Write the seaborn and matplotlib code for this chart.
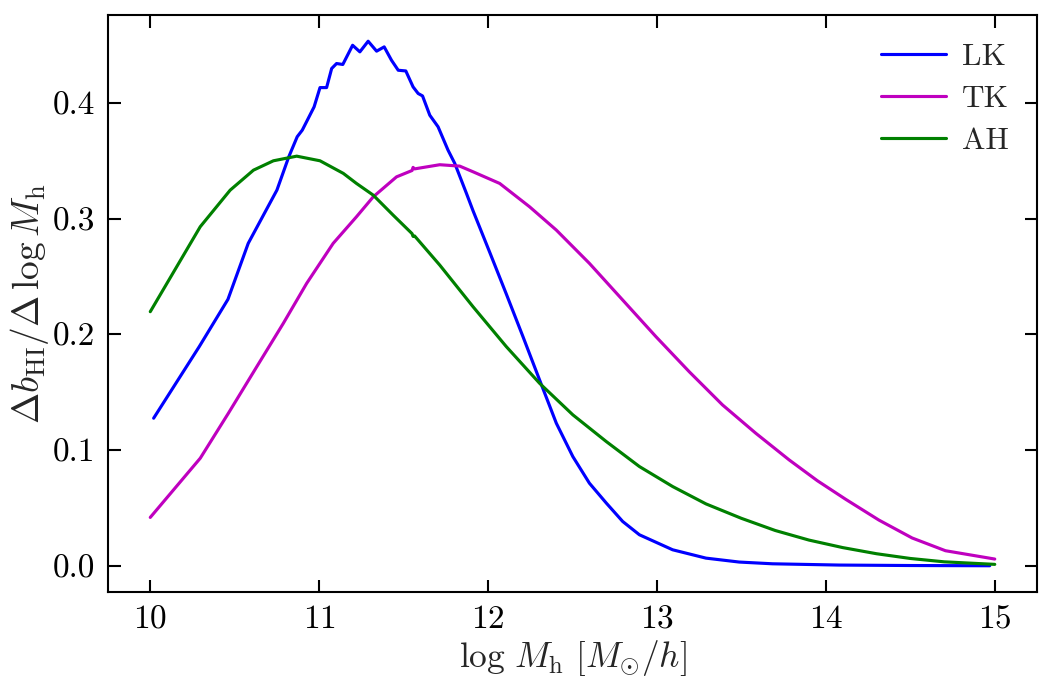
import numpy as np
import pandas as pd
import seaborn as sns
import matplotlib.pyplot as plt

# HI bias contribution per halo mass bin
lk_logm = [10.02, 10.29, 10.46, 10.58, 10.75, 10.82, 10.87, 10.90, 10.97, 11.005, 11.044,
           11.074, 11.103, 11.14, 11.198, 11.241, 11.29, 11.34, 11.385, 11.428, 11.468,
           11.513, 11.556, 11.586, 11.612, 11.655, 11.704, 11.763, 11.803, 11.872, 11.911,
           12.01, 12.108, 12.207, 12.305, 12.404, 12.502, 12.6, 12.7, 12.797, 12.896,
           13.093, 13.29, 13.487, 13.684, 14.078, 14.5, 14.97]
lk_db = [0.1276, 0.1895, 0.2304, 0.2788, 0.3249, 0.3536, 0.371, 0.3767, 0.3968, 0.4135, 0.4135,
         0.430, 0.4343, 0.4335, 0.4501, 0.4444, 0.4536, 0.445, 0.4487, 0.4372, 0.4285,
         0.4279, 0.4141, 0.4084, 0.4063, 0.3896, 0.3796, 0.3594, 0.3479, 0.322, 0.307,
         0.271, 0.235, 0.198, 0.1607, 0.1233, 0.0944, 0.0714, 0.0542, 0.0383, 0.0268,
         0.0138, 0.0066, 0.0032, 0.0017, 0.0006, 0.0002, 0.0]

tk_logm = [10.0, 10.296, 10.463, 10.63, 10.788, 10.926, 11.083, 11.221, 11.32, 11.458, 11.55,
           11.556, 11.565, 11.714, 11.832, 11.911, 12.069, 12.246, 12.404, 12.6, 12.797,
           12.994, 13.191, 13.388, 13.585, 13.782, 13.95, 14.117, 14.314, 14.511, 14.708,
           15.0]
tk_db = [0.0418, 0.093, 0.132, 0.172, 0.2097, 0.2442, 0.2788, 0.3018, 0.319, 0.3363, 0.3418,
         0.3445, 0.3432, 0.3468, 0.3456, 0.3407, 0.3306, 0.3104, 0.2903, 0.2615, 0.2298,
         0.1981, 0.1678, 0.1391, 0.1146, 0.0916, 0.0735, 0.0575, 0.0395, 0.0240, 0.0130,
         0.0058]

ah_logm = [10.0, 10.296, 10.473, 10.611, 10.729, 10.867, 11.005, 11.143, 11.221, 11.32, 11.438,
           11.55, 11.556, 11.565, 11.714, 11.911, 12.108, 12.305, 12.502, 12.7, 12.896,
           13.093, 13.29, 13.5, 13.7, 13.9, 14.1, 14.3, 14.5, 14.7, 15.0]
ah_db = [0.2197, 0.2932, 0.3248, 0.3421, 0.3502, 0.3542, 0.3502, 0.3393, 0.3306, 0.3205, 0.3032,
         0.2872, 0.2848, 0.2852, 0.26, 0.224, 0.1895, 0.1578, 0.1305, 0.1074, 0.0858,
         0.0685, 0.0535, 0.0410, 0.0305, 0.0222, 0.0157, 0.0104, 0.0063, 0.0034, 0.0012]

models = ["LK", "TK", "AH"]
colors = {"LK": "b", "TK": "m", "AH": "g"}

df = pd.concat([
    pd.DataFrame({"logM": lk_logm, "db": lk_db, "model": "LK"}),
    pd.DataFrame({"logM": tk_logm, "db": tk_db, "model": "TK"}),
    pd.DataFrame({"logM": ah_logm, "db": ah_db, "model": "AH"}),
])

sns.set_style("ticks")
plt.rcParams.update({
    "font.family": "serif",
    "font.serif": ["cmr10", "DejaVu Serif"],
    "mathtext.fontset": "cm",
    "axes.formatter.use_mathtext": True,
    "axes.linewidth": 1.0,
    "axes.edgecolor": "black",
})

fig = plt.figure(figsize=(1053 / 150, 694 / 150), dpi=150)
ax = fig.add_axes([0.1026, 0.147, 0.8822, 0.8314])

sns.lineplot(data=df, x="logM", y="db", hue="model", hue_order=models,
             palette=colors, estimator=None, sort=False, linewidth=1.5, ax=ax)

ax.set_xticks([10, 11, 12, 13, 14, 15])
ax.set_yticks([0.0, 0.1, 0.2, 0.3, 0.4])
ax.set_yticklabels(["0.0", "0.1", "0.2", "0.3", "0.4"])
ax.tick_params(direction="in", top=True, right=True, length=6, width=1.0,
               labelsize=16, pad=6, colors="black")
ax.set_xlabel(r"$\log\,M_{\rm h}\ [M_{\odot}/h]$", fontsize=17, labelpad=2)
ax.set_ylabel(r"$\Delta b_{\rm HI}/\Delta\,\log M_{\rm h}$", fontsize=18, labelpad=1)
ax.legend(frameon=False, fontsize=15, loc="upper right", handlelength=2.1,
          labelspacing=0.45, handletextpad=0.5, borderaxespad=0.5)

fig.savefig("out.png", dpi=150)
